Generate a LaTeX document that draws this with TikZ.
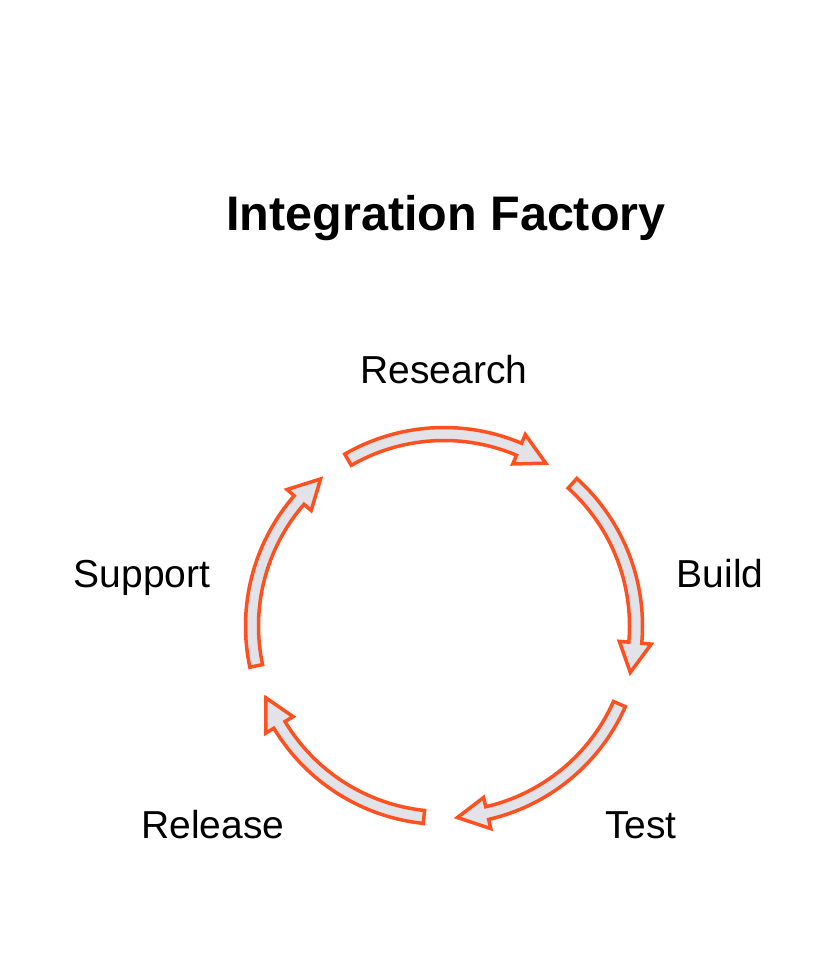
\documentclass[tikz,border=0pt]{standalone}
\usepackage{fontspec}
\setmainfont{Liberation Sans}
\definecolor{arrorange}{HTML}{FF5020}
\definecolor{arrfill}{HTML}{E2E3E8}
\begin{document}
\begin{tikzpicture}[x=1pt,y=1pt,
  arrowband/.style={draw=arrorange,fill=arrfill,line width=3.5pt,line join=miter},
  label/.style={font=\fontsize{39}{46}\selectfont,anchor=base,inner sep=0pt},
  titlestyle/.style={font=\fontsize{48.5}{56}\selectfont\bfseries,anchor=base,inner sep=0pt}]
\useasboundingbox (0,0) rectangle (816,956);
\node[titlestyle] (title) at (446,956-231) {Integration Factory};
\node[label] (research) at (444,956-384) {Research};
\node[label] (build) at (720,956-588) {Build};
\node[label] (test) at (641,956-839) {Test};
\node[label] (release) at (213,956-839) {Release};
\node[label] (support) at (142,956-588) {Support};
\begin{scope}[shift={(444,330)}]
\foreach \s in {120,48,-24,-96,-168}{
  \pgfmathsetmacro{\e}{\s-62}
  \pgfmathsetmacro{\b}{\s-53}
  \draw[arrowband] (\s:198.5) arc[start angle=\s,end angle=\b,radius=198.5]
    -- (\b:208) -- (\e:192) -- (\b:176) -- (\b:185.5)
    arc[start angle=\b,end angle=\s,radius=185.5] -- cycle;
}
\end{scope}
\end{tikzpicture}
\end{document}
